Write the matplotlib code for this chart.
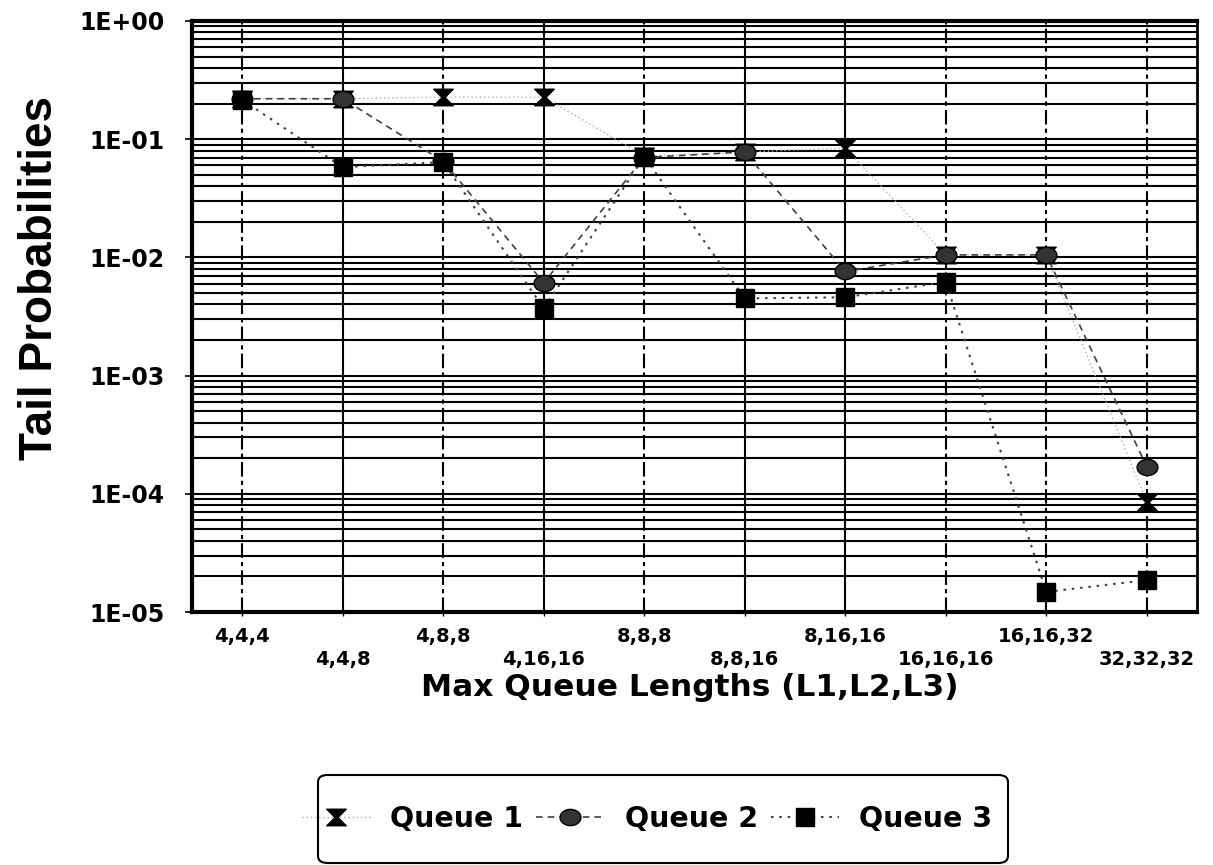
import matplotlib
matplotlib.use("Agg")
import matplotlib.pyplot as plt
from matplotlib.path import Path
from matplotlib.patches import FancyBboxPatch
import numpy as np

# ---- data ----
categories = ["4,4,4", "4,4,8", "4,8,8", "4,16,16", "8,8,8",
              "8,8,16", "8,16,16", "16,16,16", "16,16,32", "32,32,32"]
queue1 = [0.22, 0.22, 0.227, 0.227, 0.072, 0.078, 0.084, 0.0105, 0.0105, 8.5e-5]
queue2 = [0.22, 0.22, 0.065, 0.0061, 0.07, 0.078, 0.0076, 0.0105, 0.0105, 1.7e-4]
queue3 = [0.215, 0.058, 0.064, 0.0037, 0.071, 0.0045, 0.0046, 0.0062, 1.48e-5, 1.86e-5]
series_names = ["Queue 1", "Queue 2", "Queue 3"]
ytick_vals = [1e0, 1e-1, 1e-2, 1e-3, 1e-4, 1e-5]
ytick_labels = ["1E+00", "1E-01", "1E-02", "1E-03", "1E-04", "1E-05"]

plt.rcParams['font.family'] = ['DejaVu Sans']

W, H = 1213, 865
fig = plt.figure(figsize=(W / 100, H / 100), dpi=100)
L, R, T, B = 192, 1197, 21, 612
ax = fig.add_axes([L / W, 1 - B / H, (R - L) / W, (B - T) / H])

x = np.arange(len(categories))

# markers
hourglass = Path([(-1, 0.85), (1, 0.85), (0.15, 0), (1, -0.85), (-1, -0.85), (-0.15, 0), (-1, 0.85)],
                 [Path.MOVETO, Path.LINETO, Path.LINETO, Path.LINETO, Path.LINETO, Path.LINETO, Path.CLOSEPOLY])
th = np.linspace(0, 2 * np.pi, 40)
ellipse = Path(np.column_stack([np.cos(th), 0.78 * np.sin(th)]))

l1, = ax.plot(x, queue1, linestyle=(0, (1, 2)), color='#b0b0b0', lw=1.0,
              marker=hourglass, markersize=14, markerfacecolor='black',
              markeredgecolor='black', zorder=4, label=series_names[0])
l2, = ax.plot(x, queue2, linestyle=(0, (4, 3)), color='#404040', lw=1.2,
              marker=ellipse, markersize=15, markerfacecolor='#333333',
              markeredgecolor='black', zorder=5, label=series_names[1])
l3, = ax.plot(x, queue3, linestyle=(0, (1.2, 2.8)), color='#404040', lw=1.5,
              marker='s', markersize=13.5, markerfacecolor='black',
              markeredgecolor='black', zorder=6, label=series_names[2])

ax.set_yscale('log')
ax.set_ylim(1e-5, 1)
ax.set_xlim(-0.5, len(categories) - 0.5)

# horizontal grid at every decade subdivision
for d in range(-5, 0):
    for m in range(1, 10):
        v = m * 10.0 ** d
        ax.axhline(v, color='black', lw=1.5, zorder=1)
# vertical grid
solid_idx = {1, 3, 5, 6}
for i in x:
    ls = '-' if i in solid_idx else (0, (7, 2, 2, 2))
    ax.axvline(i, color='black', lw=1.5, linestyle=ls, zorder=1)

ax.set_yticks(ytick_vals)
ax.set_yticklabels(ytick_labels, fontsize=17, fontweight='bold')
ax.yaxis.set_minor_locator(matplotlib.ticker.NullLocator())
ax.tick_params(axis='y', which='major', direction='out', length=5, width=1.2, pad=15)

ax.set_xticks(x)
ax.set_xticklabels(categories, fontsize=14, fontweight='bold')
ax.tick_params(axis='x', direction='out', length=3, width=1.0)
for i, tk in enumerate(ax.xaxis.get_major_ticks()):
    tk.set_pad(8 if i % 2 == 0 else 24)

for side, lw in [('left', 3), ('bottom', 3), ('top', 3), ('right', 2)]:
    ax.spines[side].set_linewidth(lw)
    ax.spines[side].set_color('black')
    ax.spines[side].set_zorder(7)

fig.text(40 / W, 1 - 278 / H, "Tail Probabilities", rotation=90, ha='center', va='center',
         fontsize=33, fontweight='bold', family='Liberation Sans')
fig.text(690 / W, 1 - 688 / H, "Max Queue Lengths (L1,L2,L3)", ha='center', va='center',
         fontsize=22.5, fontweight='bold')

# legend box
bx0, by0, bx1, by1 = 318, 775, 1008, 863
box = FancyBboxPatch((bx0 / W, 1 - by1 / H), (bx1 - bx0) / W, (by1 - by0) / H,
                     boxstyle="round,pad=0,rounding_size=0.008", transform=fig.transFigure,
                     facecolor='white', edgecolor='black', lw=1.5)
fig.patches.append(box)
leg = fig.legend(handles=[l1, l2, l3], loc='center',
                 bbox_to_anchor=(647 / W, 1 - (by0 + by1) / 2 / H),
                 ncol=3, frameon=False, prop={'size': 20.5, 'weight': 'bold'},
                 handlelength=2.4, handletextpad=0.7, columnspacing=0.45, numpoints=1)

fig.savefig("out.png", dpi=100)
